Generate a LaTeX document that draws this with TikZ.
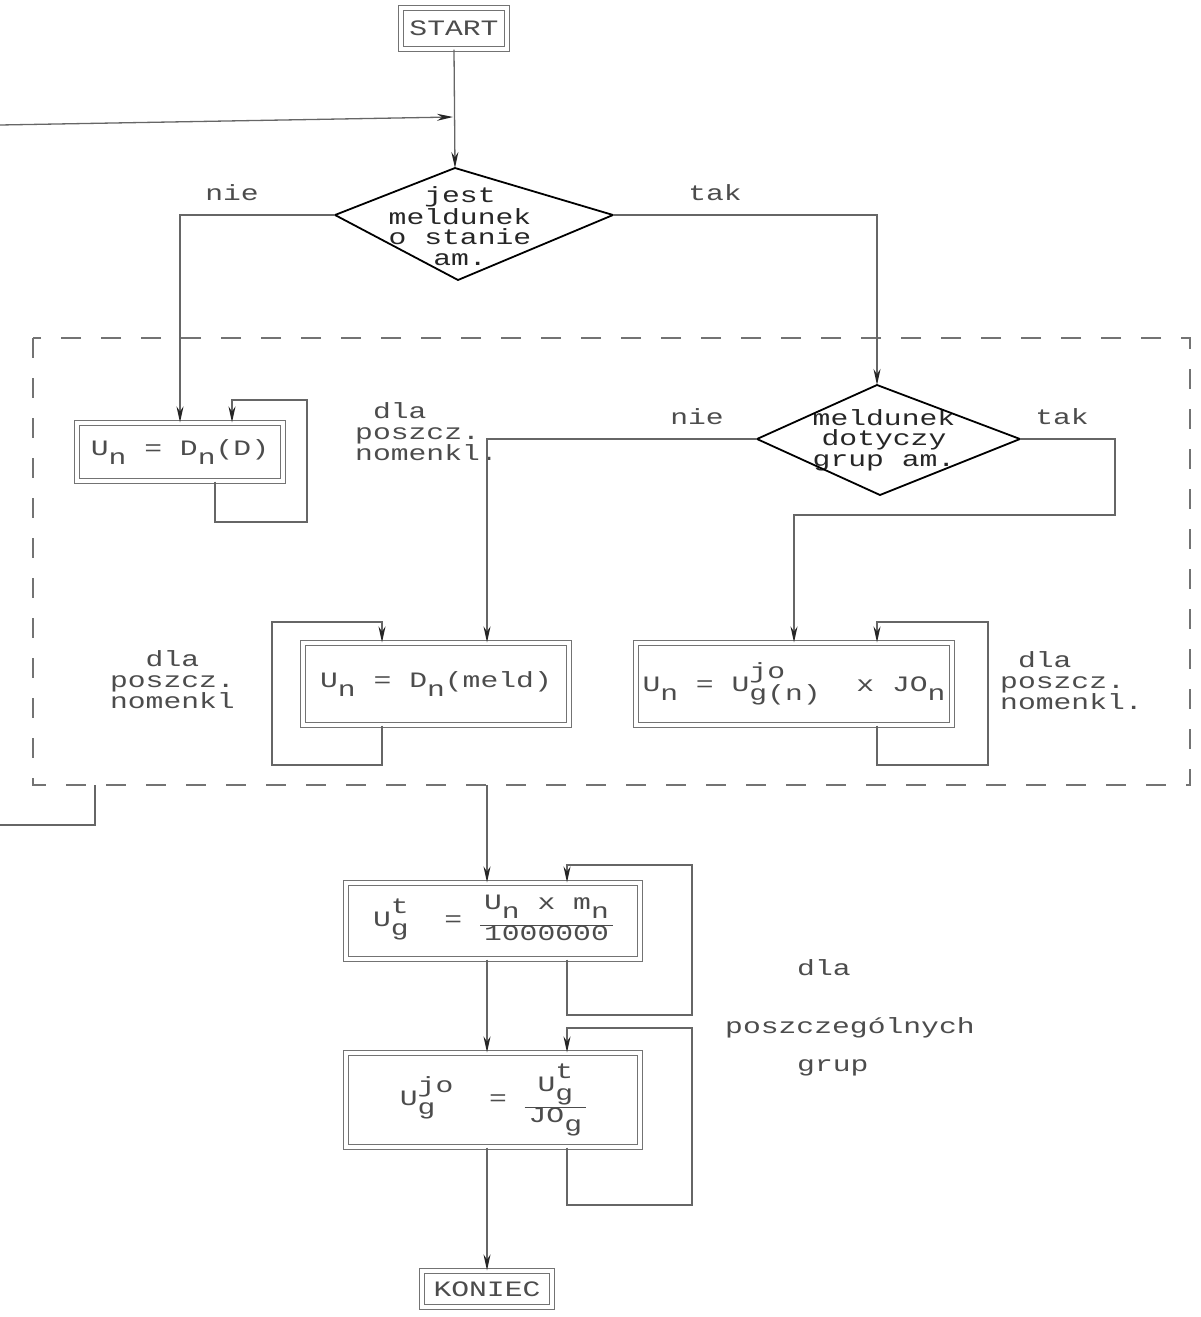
\documentclass[tikz,border=0pt]{standalone}
\usepackage{fontspec}
\setmainfont{Liberation Mono}[FakeStretch=1.35]
\usetikzlibrary{arrows.meta,calc}
\newcommand{\dn}[1]{\raisebox{-9pt}{#1}}
\newcommand{\hi}[1]{\rlap{\raisebox{13pt}{#1}}}
\setlength{\arrayrulewidth}{1.2pt}
\tikzset{
  line/.style={draw=black!60, line width=1.3pt},
  arr/.style={line, -{Stealth[length=16pt,width=7pt,color=black!85,fill=black!85]}},
  dbox/.style={draw=black!55, double, double distance=3.5pt, line width=1.2pt, inner sep=0pt, text=black!70},
  dia/.style={draw=black, line width=1.8pt},
  lbl/.style={text=black!70, inner sep=0pt},
  dtext/.style={text=black!85, inner sep=0pt, align=center},
  dashbox/.style={draw=black!55, line width=1.3pt, dash pattern=on 20pt off 20pt},
}
\begin{document}
\begin{tikzpicture}[x=1pt,y=-1pt,font=\fontsize{22}{20.5}\selectfont]
\useasboundingbox (0,0) rectangle (1201,1317);

% coordinates
\coordinate (d1t) at (455,168);
\coordinate (d1l) at (335,215);
\coordinate (d1r) at (613,215);
\coordinate (d1b) at (458,280);
\coordinate (d2t) at (877,385);
\coordinate (d2l) at (757,439);
\coordinate (d2r) at (1020,439);
\coordinate (d2b) at (880,495);
\coordinate (fbL) at (0,125);
\coordinate (fbJ) at (453,117);
\coordinate (rb1) at (1115,515);
\coordinate (exitpt) at (487,785);
\coordinate (fbo) at (95,785);
\coordinate (fbe) at (0,825);
\coordinate (l1c) at (307,522);
\coordinate (l1e) at (232,400);
\coordinate (l2c) at (272,765);
\coordinate (l2e) at (382,622);
\coordinate (l3c) at (988,765);
\coordinate (l3e) at (877,622);
\coordinate (l4c) at (692,1015);
\coordinate (l4e) at (567,865);
\coordinate (l5c) at (692,1205);
\coordinate (l5e) at (567,1028);

% dashed frame
\draw[dashbox] (33,338) rectangle (1190,785);

% nodes
\node[dbox, minimum width=106pt, minimum height=41pt] (start) at (454,28.5) {START};
\node[dtext] (d1) at (460,226) {jest\\meldunek\\o stanie\\am.};
\draw[dia] (d1t) -- (d1r) -- (d1b) -- (d1l) -- cycle;
\node[dtext] (d2) at (884,440) {meldunek\\dotyczy\\grup am.};
\draw[dia] (d2t) -- (d2r) -- (d2b) -- (d2l) -- cycle;

\node[dbox, minimum width=206pt, minimum height=58pt] (box1) at (180,452) {U\dn{n} = D\dn{n}(D)};
\node[dbox, minimum width=266pt, minimum height=82pt] (box2) at (436,684) {U\dn{n} = D\dn{n}(meld)};
\node[dbox, minimum width=316pt, minimum height=82pt] (box3) at (794,684) {U\dn{n} = U\hi{jo}\dn{g(n)}\ \ x JO\dn{n}};
\node[dbox, minimum width=294pt, minimum height=76pt] (box4) at (493,921)
  {U\hi{t}\dn{g}\ \ = \begin{tabular}{@{\hspace{4pt}}c@{\hspace{4pt}}}U\dn{n} x m\dn{n}\\[9pt]\hline 1000000\end{tabular}};
\node[dbox, minimum width=294pt, minimum height=94pt] (box5) at (493,1100)
  {U\hi{jo}\dn{g}\ \ \ = \begin{tabular}{@{\hspace{4pt}}c@{\hspace{4pt}}}U\hi{t}\dn{g}\\[9pt]\hline JO\dn{g}\end{tabular}};
\node[dbox, minimum width=130pt, minimum height=36pt] (koniec) at (487,1289) {KONIEC};

% labels
\node[lbl] (nie1) at (232,193) {nie};
\node[lbl] (tak1) at (715,193) {tak};
\node[lbl] (nie2) at (697,417) {nie};
\node[lbl] (tak2) at (1062,417) {tak};
\node[lbl, align=left, anchor=west] (lab1) at (355,432) {\ dla\\poszcz.\\nomenkl.};
\node[lbl, align=center, anchor=east] (lab2) at (235,680) {dla\\poszcz.\\nomenkl};
\node[lbl, align=left, anchor=west] (lab3) at (1000,681) {\ dla\\poszcz.\\nomenkl.};
\node[lbl, anchor=west] (lab4a) at (797,968) {dla};
\node[lbl, anchor=west] (lab4b) at (725,1028) {poszczególnych};
\node[lbl, anchor=west] (lab4c) at (797,1068) {grup};

% connectors
\draw[arr] (start.south) -- (d1t);
\draw[arr] (fbL) -- (fbJ);
\draw[arr] (d1l) -| (box1.north);
\draw[arr] (d1r) -| (d2t);
\draw[arr] (d2l) -| ([xshift=51pt]box2.north);
\draw[arr] (d2r) -| (rb1) -| (box3.north);
\draw[arr] ([xshift=35pt]box1.south) |- (l1c) |- (l1e) -- ([xshift=52pt]box1.north);
\draw[arr] ([xshift=-54pt]box2.south) |- (l2c) |- (l2e) -- ([xshift=-54pt]box2.north);
\draw[arr] ([xshift=83pt]box3.south) |- (l3c) |- (l3e) -- ([xshift=83pt]box3.north);
\draw[arr] (exitpt) -- ([xshift=-6pt]box4.north);
\draw[line] (fbo) |- (fbe);
\draw[arr] ([xshift=74pt]box4.south) |- (l4c) |- (l4e) -- ([xshift=74pt]box4.north);
\draw[arr] ([xshift=-6pt]box4.south) -- ([xshift=-6pt]box5.north);
\draw[arr] ([xshift=74pt]box5.south) |- (l5c) |- (l5e) -- ([xshift=74pt]box5.north);
\draw[arr] ([xshift=-6pt]box5.south) -- (koniec.north);
\end{tikzpicture}
\end{document}
